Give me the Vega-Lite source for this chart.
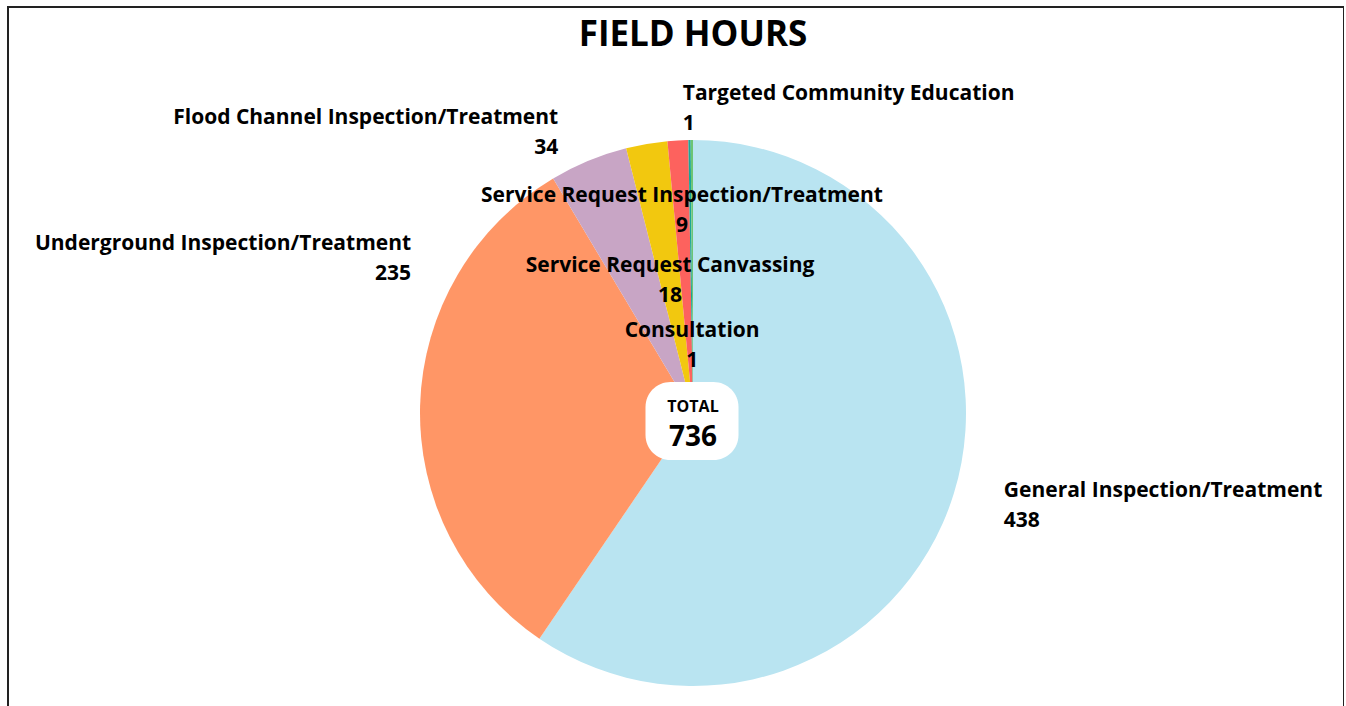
{
  "$schema": "https://vega.github.io/schema/vega-lite/v6.json",
  "width": 1336,
  "height": 720,
  "autosize": {"type": "none"},
  "padding": {"left": 8, "top": 7, "right": 0, "bottom": 0},
  "background": "white",
  "view": {"stroke": "#222222", "strokeWidth": 2, "fill": "white"},
  "config": {"view": {"stroke": "#222222", "strokeWidth": 2}, "text": {"font": "Open Sans"}},
  "title": {"text": "FIELD HOURS", "font": "Open Sans", "fontSize": 35, "fontWeight": "bold", "color": "black", "anchor": "middle", "dx": 17, "offset": -96, "baseline": "top"},
  "data": {"values": [
    {"category": "General Inspection/Treatment", "hours": 438},
    {"category": "Underground Inspection/Treatment", "hours": 235},
    {"category": "Flood Channel Inspection/Treatment", "hours": 34},
    {"category": "Service Request Canvassing", "hours": 18},
    {"category": "Service Request Inspection/Treatment", "hours": 9},
    {"category": "Consultation", "hours": 1},
    {"category": "Targeted Community Education", "hours": 1}
  ]},
  "transform": [{"calculate": "[datum.category, '' + datum.hours]", "as": "label"}],
  "encoding": {
    "theta": {"field": "hours", "type": "quantitative", "stack": true},
    "order": {"field": "hours", "type": "quantitative", "sort": "descending"}
  },
  "layer": [
    {
      "mark": {"type": "arc", "radius": 273, "xOffset": 17, "yOffset": 46},
      "encoding": {
        "color": {"field": "category", "type": "nominal", "legend": null,
          "scale": {"domain": ["General Inspection/Treatment", "Underground Inspection/Treatment", "Flood Channel Inspection/Treatment", "Service Request Canvassing", "Service Request Inspection/Treatment", "Consultation", "Targeted Community Education"],
                    "range": ["#B9E4F1", "#FF9666", "#C8A5C5", "#F2C80F", "#FD625E", "#1AA596", "#6CC575"]}}
      }
    },
    {
      "mark": {"type": "text", "radius": 320, "xOffset": 17, "yOffset": 46, "dx": 5, "dy": -16, "align": "left", "baseline": "middle", "fontSize": 21, "fontWeight": "bold", "lineHeight": 30, "fill": "black"},
      "encoding": {"text": {"condition": {"test": "datum.category === 'General Inspection/Treatment'", "field": "label"}, "value": ""}}
    },
    {
      "mark": {"type": "text", "radius": 285, "xOffset": 17, "yOffset": 46, "dx": 3, "dy": -160, "align": "right", "baseline": "middle", "fontSize": 21, "fontWeight": "bold", "lineHeight": 30, "fill": "black"},
      "encoding": {"text": {"condition": {"test": "datum.category === 'Underground Inspection/Treatment'", "field": "label"}, "value": ""}}
    },
    {
      "mark": {"type": "text", "radius": 300, "xOffset": 17, "yOffset": 46, "dx": -20, "dy": -18, "align": "right", "baseline": "middle", "fontSize": 21, "fontWeight": "bold", "lineHeight": 30, "fill": "black"},
      "encoding": {"text": {"condition": {"test": "datum.category === 'Flood Channel Inspection/Treatment'", "field": "label"}, "value": ""}}
    },
    {
      "mark": {"type": "text", "radius": 300, "xOffset": 17, "yOffset": 46, "dx": -9, "dy": -19, "align": "left", "baseline": "middle", "fontSize": 21, "fontWeight": "bold", "lineHeight": 30, "fill": "black"},
      "encoding": {"text": {"condition": {"test": "datum.category === 'Targeted Community Education'", "field": "label"}, "value": ""}}
    },
    {
      "mark": {"type": "text", "radius": 200, "xOffset": 17, "yOffset": 46, "dx": 0, "dy": -17, "align": "center", "baseline": "middle", "fontSize": 21, "fontWeight": "bold", "lineHeight": 30, "fill": "black"},
      "encoding": {"text": {"condition": {"test": "datum.category === 'Service Request Inspection/Treatment'", "field": "label"}, "value": ""}}
    },
    {
      "mark": {"type": "text", "radius": 135, "xOffset": 17, "yOffset": 46, "dx": 0, "dy": -14, "align": "center", "baseline": "middle", "fontSize": 21, "fontWeight": "bold", "lineHeight": 30, "fill": "black"},
      "encoding": {"text": {"condition": {"test": "datum.category === 'Service Request Canvassing'", "field": "label"}, "value": ""}}
    },
    {
      "mark": {"type": "text", "radius": 68, "xOffset": 17, "yOffset": 46, "dx": 0, "dy": -14, "align": "center", "baseline": "middle", "fontSize": 21, "fontWeight": "bold", "lineHeight": 30, "fill": "black"},
      "encoding": {"text": {"condition": {"test": "datum.category === 'Consultation'", "field": "label"}, "value": ""}}
    },
    {
      "data": {"values": [{"label": "TOTAL"}]},
      "transform": [],
      "layer": [
        {
          "mark": {"type": "point", "filled": true, "fill": "white", "opacity": 1, "stroke": null, "size": 8649, "xOffset": 16, "yOffset": 54,
            "shape": "M -0.462,-0.839 L 0.462,-0.839 A 0.538 0.538 0 0 1 1,-0.301 L 1,0.301 A 0.538 0.538 0 0 1 0.462,0.839 L -0.462,0.839 A 0.538 0.538 0 0 1 -1,0.301 L -1,-0.301 A 0.538 0.538 0 0 1 -0.462,-0.839 Z"},
          "encoding": {"theta": null, "order": null}
        },
        {
          "mark": {"type": "text", "xOffset": 17, "yOffset": 40, "fontSize": 16, "fontWeight": "bold", "fill": "black", "baseline": "middle"},
          "encoding": {"theta": null, "order": null, "text": {"field": "label", "type": "nominal"}}
        }
      ]
    },
    {
      "mark": {"type": "text", "xOffset": 17, "yOffset": 71, "fontSize": 28, "fontWeight": "bold", "fill": "black", "baseline": "middle"},
      "encoding": {"theta": null, "order": null, "text": {"aggregate": "sum", "field": "hours", "type": "quantitative"}}
    }
  ]
}
